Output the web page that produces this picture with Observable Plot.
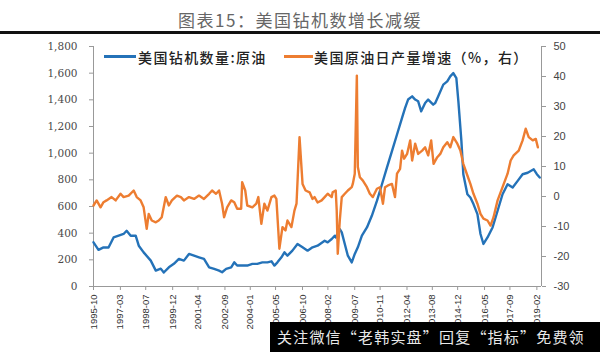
<!DOCTYPE html>
<html><head><meta charset="utf-8">
<script src="https://cdn.jsdelivr.net/npm/d3@7"></script>
<script src="https://cdn.jsdelivr.net/npm/@observablehq/plot@0.6"></script>
<style>
body{margin:0;background:#fff;}
#wrap{position:relative;width:600px;height:352px;overflow:hidden;background:#fff;font-family:"Noto Sans CJK SC",sans-serif;}
#wrap svg{position:absolute;left:0;top:0;}
.title{position:absolute;left:0;width:600px;top:7px;text-align:center;font-size:17px;letter-spacing:1.5px;color:#666;}
.rule{position:absolute;left:0;top:31px;width:600px;height:3px;background:#111;}
.lg-line{position:absolute;height:3px;top:55px;}
.lg-text{position:absolute;top:47px;font-size:14px;font-weight:500;letter-spacing:1.4px;color:#222;white-space:nowrap;}
.wm{position:absolute;left:270px;top:322px;width:330px;height:30px;background:#000;}
.wm span{position:absolute;left:7px;top:4px;font-size:15px;letter-spacing:1.2px;color:#e8e8e8;white-space:nowrap;}
</style></head><body><div id="wrap"></div>
<script>
const title = "图表15：美国钻机数增长减缓";
const seriesNames = ["美国钻机数量:原油", "美国原油日产量增速（%，右）"];
const seriesColors = ["#2472b8", "#ed7d31"];
const watermark = "关注微信“老韩实盘”回复“指标”免费领";
const xTickLabels = ["1995-10","1997-03","1998-07","1999-12","2001-04","2002-09","2004-01","2005-05","2006-10","2008-02","2009-07","2010-11","2012-04","2013-08","2014-12","2016-05","2017-09","2019-02"];
const leftTicks = [0,200,400,600,800,1000,1200,1400,1600,1800];
const rightTicks = [-30,-20,-10,0,10,20,30,40,50];
const xDomain = ["1995-10-01","2019-05-01"];

const rigCount = [
["1995-10-01",331],["1996-01-05",275],["1996-04-10",293],["1996-07-16",293],["1996-10-21",368],
["1997-01-26",381],["1997-05-01",394],["1997-06-29",418],["1997-09-15",381],["1997-12-20",381],
["1998-02-17",306],["1998-05-22",256],["1998-10-06",194],["1999-01-11",119],["1999-04-16",134],
["1999-06-13",105],["1999-09-19",144],["1999-12-24",170],["2000-03-30",207],["2000-07-04",194],
["2000-10-10",244],["2001-01-15",231],["2001-04-20",219],["2001-07-25",207],["2001-11-01",144],
["2002-02-06",132],["2002-05-11",119],["2002-07-08",107],["2002-09-24",132],["2002-12-30",144],
["2003-02-27",181],["2003-04-24",157],["2003-07-29",157],["2003-11-04",157],["2004-02-10",170],
["2004-05-15",170],["2004-08-20",181],["2004-11-25",181],["2005-02-11",189],["2005-04-09",157],
["2005-06-06",181],["2005-08-22",219],["2005-10-19",256],["2005-12-16",231],["2006-03-21",269],
["2006-06-27",319],["2006-10-02",294],["2007-01-07",269],["2007-04-12",294],["2007-07-18",306],
["2007-12-01",343],["2008-01-28",331],["2008-04-15",356],["2008-06-12",381],["2008-07-01",368],
["2008-09-17",431],["2008-10-25",406],["2008-12-22",319],["2009-02-19",231],["2009-05-05",181],
["2009-07-02",244],["2009-08-30",294],["2009-11-16",381],["2010-02-21",443],["2010-05-26",530],
["2010-09-01",642],["2010-12-07",767],["2011-03-12",891],["2011-06-17",1016],["2011-09-22",1140],
["2011-12-28",1264],["2012-02-25",1339],["2012-04-22",1402],["2012-07-09",1426],["2012-09-05",1402],
["2012-11-02",1389],["2012-12-30",1314],["2013-03-16",1376],["2013-05-13",1402],["2013-08-18",1364],
["2013-09-26",1376],["2013-11-23",1426],["2014-02-28",1514],["2014-05-15",1538],["2014-07-12",1576],
["2014-09-09",1601],["2014-11-06",1563],["2014-12-15",1389],["2015-02-11",1090],["2015-03-20",842],
["2015-06-06",692],["2015-08-03",667],["2015-10-01",618],["2015-12-16",543],["2016-02-13",394],
["2016-04-10",319],["2016-06-27",368],["2016-10-02",443],["2017-01-07",568],["2017-04-12",692],
["2017-07-18",767],["2017-10-23",742],["2018-01-28",792],["2018-05-03",842],["2018-08-09",853],
["2018-10-06",866],["2018-12-03",879],["2019-02-01",842],["2019-03-28",817]
];

const prodGrowth = [
["1995-10-01",-3],["1995-12-01",-1.3],["1996-02-14",-3.6],["1996-04-10",-1.9],["1996-06-08",-1.3],
["1996-09-13",-0.2],["1996-11-30",-1.3],["1997-03-04",0.9],["1997-05-01",-0.2],["1997-08-07",0.3],
["1997-11-12",2],["1998-01-09",-0.2],["1998-03-25",-1.3],["1998-05-22",-3.6],["1998-07-20",-10.8],
["1998-08-28",-5.8],["1998-10-25",-8],["1999-01-11",-8.6],["1999-03-08",-8],["1999-05-05",-6.9],
["1999-07-21",-0.2],["1999-09-19",-3],["1999-11-16",-1.3],["2000-02-21",0.3],["2000-05-07",-0.2],
["2000-07-04",-1.3],["2000-10-10",-0.2],["2001-01-15",-0.8],["2001-04-20",0.3],["2001-07-25",-0.8],
["2001-11-01",0.9],["2001-12-28",2],["2002-03-14",0.9],["2002-05-11",2],["2002-07-08",-2.4],
["2002-08-16",-6.9],["2002-10-13",-3.6],["2002-12-30",-1.3],["2003-02-27",-1.9],["2003-04-24",-4.1],
["2003-07-10",-4.1],["2003-07-29",4.8],["2003-09-26",2],["2003-11-04",-3],["2004-02-10",-3.6],
["2004-04-26",-2.4],["2004-06-04",-0.2],["2004-08-01",-9.1],["2004-09-28",-2.4],["2004-11-25",-4.7],
["2005-02-11",-0.2],["2005-04-09",0.3],["2005-05-17",-0.8],["2005-07-14",-17.4],["2005-09-11",-10.2],
["2005-11-08",-11.3],["2005-12-16",-8],["2006-03-02",-10.2],["2006-04-29",-4.7],["2006-06-08",-2.4],
["2006-08-05",19.8],["2006-10-02",4.2],["2006-11-29",2],["2007-02-15",1.4],["2007-04-12",-0.8],
["2007-05-21",-0.2],["2007-07-18",-2],["2007-10-04",-1.3],["2007-12-01",-0.2],["2008-01-28",0.9],
["2008-04-15",-0.2],["2008-05-03",1.4],["2008-07-01",2],["2008-07-20",-4.7],["2008-08-09",-19.1],
["2008-09-17",-8],["2008-10-25",-0.2],["2008-12-22",0.9],["2009-02-19",2],["2009-05-05",3.1],
["2009-05-25",4.2],["2009-07-02",7.6],["2009-08-11",40.3],["2009-08-30",9.8],["2009-10-08",6.4],
["2009-12-05",5.3],["2010-02-21",3.1],["2010-04-18",0.9],["2010-06-15",-0.2],["2010-09-01",2.6],
["2010-10-29",3.1],["2010-12-26",-2.4],["2011-02-04",3.1],["2011-04-01",3.7],["2011-06-17",4.2],
["2011-08-14",-0.2],["2011-09-22",7.6],["2011-11-20",9.2],["2011-12-28",15.3],["2012-02-06",12.6],
["2012-04-03",14.2],["2012-06-01",18.7],["2012-07-09",12],["2012-09-05",17.6],["2012-11-02",14.2],
["2013-01-18",15.3],["2013-03-16",16.4],["2013-05-13",13.7],["2013-07-10",18.7],["2013-08-25",10.9],
["2013-11-04",13.1],["2014-01-01",14.2],["2014-02-28",16.4],["2014-05-15",18.1],["2014-07-12",16.4],
["2014-09-09",19.8],["2014-11-25",17.6],["2015-01-22",15.3],["2015-03-20",10.9],["2015-06-06",7],
["2015-08-03",4.2],["2015-10-01",0.9],["2015-12-16",-2.4],["2016-02-13",-5.8],["2016-04-10",-7.4],
["2016-06-27",-8],["2016-08-24",-9.7],["2016-10-21",-6.9],["2017-01-07",-1.3],["2017-04-12",3.1],
["2017-07-18",7.6],["2017-09-15",12],["2017-11-12",13.7],["2018-02-17",15.3],["2018-05-03",18.7],
["2018-07-01",22.6],["2018-08-28",19.8],["2018-11-14",18.7],["2019-01-11",19.2],["2019-02-20",16.4]
];

const parse = d3.utcParse("%Y-%m-%d");
const parseMonth = d3.utcParse("%Y-%m");
const leftMax = 1800, rightMin = -30, rightMax = 50;
const toLeft = p => (p - rightMin) * leftMax / (rightMax - rightMin);
const fromLeft = v => v * (rightMax - rightMin) / leftMax + rightMin;

const rigData = rigCount.map(([d, v]) => ({date: parse(d), value: v}));
const prodData = prodGrowth.map(([d, v]) => ({date: parse(d), value: toLeft(v)}));
const xTicks = xTickLabels.map(parseMonth);
const dom = xDomain.map(parse);

const chart = Plot.plot({
  width: 600, height: 352,
  marginTop: 46, marginBottom: 66, marginLeft: 93, marginRight: 59,
  x: {type: "utc", domain: dom},
  y: {domain: [0, leftMax]},
  style: {background: "transparent", overflow: "visible"},
  marks: [
    Plot.axisY(leftTicks, {anchor: "left", label: null, tickSize: 4, tickPadding: 12, tickFormat: d3.format(","),
      fontFamily: "DejaVu Serif", fontSize: 10.5, fill: "#4a4a4a", stroke: "#999"}),
    Plot.axisY(rightTicks.map(toLeft), {anchor: "right", label: null, tickSize: 4, tickPadding: 8,
      tickFormat: v => String(Math.round(fromLeft(v))),
      fontFamily: "Liberation Sans", fontSize: 11, fill: "#444", stroke: "#999"}),
    Plot.axisX(xTicks, {anchor: "bottom", label: null, tickSize: 4, tickPadding: 4, tickRotate: -90,
      tickFormat: d3.utcFormat("%Y-%m"), fontFamily: "Liberation Sans", fontSize: 9.5, fill: "#333", stroke: "#999"}),
    Plot.ruleY([0], {stroke: "#999"}),
    Plot.ruleX([dom[0], dom[1]], {stroke: "#999"}),
    Plot.line(rigData, {x: "date", y: "value", stroke: seriesColors[0], strokeWidth: 2.4}),
    Plot.line(prodData, {x: "date", y: "value", stroke: seriesColors[1], strokeWidth: 2.4})
  ]
});

const wrap = document.getElementById("wrap");
wrap.appendChild(chart);
const add = (cls, css, text) => {
  const el = document.createElement("div");
  el.className = cls;
  Object.assign(el.style, css);
  if (text != null) el.textContent = text;
  wrap.appendChild(el);
  return el;
};
add("title", {}, title);
add("rule", {});
add("lg-line", {left: "104px", width: "32px", background: seriesColors[0]});
add("lg-text", {left: "138px"}, seriesNames[0]);
add("lg-line", {left: "284px", width: "29px", background: seriesColors[1]});
add("lg-text", {left: "314px"}, seriesNames[1]);
const wm = add("wm", {});
const s = document.createElement("span");
s.textContent = watermark;
wm.appendChild(s);
</script></body></html>
